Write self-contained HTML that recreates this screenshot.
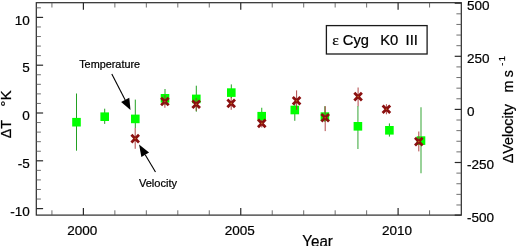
<!DOCTYPE html>
<html><head><meta charset="utf-8"><title>chart</title>
<style>
html,body{margin:0;padding:0;background:#fff;}
svg{display:block;will-change:transform;}
text{font-family:"Liberation Sans",sans-serif;fill:#000;stroke:#000;stroke-width:0.22px;}
</style></head><body>
<svg width="516" height="246" viewBox="0 0 516 246">
<rect x="0" y="0" width="516" height="246" fill="#fff"/>
<g stroke="#2a2a2a" stroke-width="1.2" fill="none">
<rect x="36.3" y="2.7" width="425.0" height="212.4"/>
<path d="M36.3 208.60h6.8"/><path d="M36.3 199.04h4.6" stroke="#555" stroke-width="0.85"/><path d="M36.3 189.48h4.6" stroke="#555" stroke-width="0.85"/><path d="M36.3 179.92h4.6" stroke="#555" stroke-width="0.85"/><path d="M36.3 170.36h4.6" stroke="#555" stroke-width="0.85"/><path d="M36.3 160.80h6.8"/><path d="M36.3 151.24h4.6" stroke="#555" stroke-width="0.85"/><path d="M36.3 141.68h4.6" stroke="#555" stroke-width="0.85"/><path d="M36.3 132.12h4.6" stroke="#555" stroke-width="0.85"/><path d="M36.3 122.56h4.6" stroke="#555" stroke-width="0.85"/><path d="M36.3 113.00h6.8"/><path d="M36.3 103.44h4.6" stroke="#555" stroke-width="0.85"/><path d="M36.3 93.88h4.6" stroke="#555" stroke-width="0.85"/><path d="M36.3 84.32h4.6" stroke="#555" stroke-width="0.85"/><path d="M36.3 74.76h4.6" stroke="#555" stroke-width="0.85"/><path d="M36.3 65.20h6.8"/><path d="M36.3 55.64h4.6" stroke="#555" stroke-width="0.85"/><path d="M36.3 46.08h4.6" stroke="#555" stroke-width="0.85"/><path d="M36.3 36.52h4.6" stroke="#555" stroke-width="0.85"/><path d="M36.3 26.96h4.6" stroke="#555" stroke-width="0.85"/><path d="M36.3 17.40h6.8"/><path d="M36.3 7.84h4.6" stroke="#555" stroke-width="0.85"/><path d="M461.3 215.10h-6.6"/><path d="M461.3 204.98h-4.9" stroke="#555" stroke-width="0.85"/><path d="M461.3 194.36h-4.9" stroke="#555" stroke-width="0.85"/><path d="M461.3 183.74h-4.9" stroke="#555" stroke-width="0.85"/><path d="M461.3 173.12h-4.9" stroke="#555" stroke-width="0.85"/><path d="M461.3 162.50h-6.6"/><path d="M461.3 151.88h-4.9" stroke="#555" stroke-width="0.85"/><path d="M461.3 141.26h-4.9" stroke="#555" stroke-width="0.85"/><path d="M461.3 130.64h-4.9" stroke="#555" stroke-width="0.85"/><path d="M461.3 120.02h-4.9" stroke="#555" stroke-width="0.85"/><path d="M461.3 109.40h-6.6"/><path d="M461.3 98.78h-4.9" stroke="#555" stroke-width="0.85"/><path d="M461.3 88.16h-4.9" stroke="#555" stroke-width="0.85"/><path d="M461.3 77.54h-4.9" stroke="#555" stroke-width="0.85"/><path d="M461.3 66.92h-4.9" stroke="#555" stroke-width="0.85"/><path d="M461.3 56.30h-6.6"/><path d="M461.3 45.68h-4.9" stroke="#555" stroke-width="0.85"/><path d="M461.3 35.06h-4.9" stroke="#555" stroke-width="0.85"/><path d="M461.3 24.44h-4.9" stroke="#555" stroke-width="0.85"/><path d="M461.3 13.82h-4.9" stroke="#555" stroke-width="0.85"/><path d="M461.3 3.20h-6.6"/><path d="M51.93 215.1v-4.8" stroke="#555" stroke-width="0.85"/><path d="M51.93 2.7v4.8" stroke="#555" stroke-width="0.85"/><path d="M83.40 215.1v-7"/><path d="M83.40 2.7v7"/><path d="M114.87 215.1v-4.8" stroke="#555" stroke-width="0.85"/><path d="M114.87 2.7v4.8" stroke="#555" stroke-width="0.85"/><path d="M146.34 215.1v-4.8" stroke="#555" stroke-width="0.85"/><path d="M146.34 2.7v4.8" stroke="#555" stroke-width="0.85"/><path d="M177.81 215.1v-4.8" stroke="#555" stroke-width="0.85"/><path d="M177.81 2.7v4.8" stroke="#555" stroke-width="0.85"/><path d="M209.28 215.1v-4.8" stroke="#555" stroke-width="0.85"/><path d="M209.28 2.7v4.8" stroke="#555" stroke-width="0.85"/><path d="M240.75 215.1v-7"/><path d="M240.75 2.7v7"/><path d="M272.22 215.1v-4.8" stroke="#555" stroke-width="0.85"/><path d="M272.22 2.7v4.8" stroke="#555" stroke-width="0.85"/><path d="M303.69 215.1v-4.8" stroke="#555" stroke-width="0.85"/><path d="M303.69 2.7v4.8" stroke="#555" stroke-width="0.85"/><path d="M335.16 215.1v-4.8" stroke="#555" stroke-width="0.85"/><path d="M335.16 2.7v4.8" stroke="#555" stroke-width="0.85"/><path d="M366.63 215.1v-4.8" stroke="#555" stroke-width="0.85"/><path d="M366.63 2.7v4.8" stroke="#555" stroke-width="0.85"/><path d="M398.10 215.1v-7"/><path d="M398.10 2.7v7"/><path d="M429.57 215.1v-4.8" stroke="#555" stroke-width="0.85"/><path d="M429.57 2.7v4.8" stroke="#555" stroke-width="0.85"/></g>
<text x="29.8" y="24.50" font-size="13.5" text-anchor="end">10</text><text x="29.8" y="72.30" font-size="13.5" text-anchor="end">5</text><text x="29.8" y="120.10" font-size="13.5" text-anchor="end">0</text><text x="29.8" y="167.90" font-size="13.5" text-anchor="end">-5</text><text x="29.8" y="215.70" font-size="13.5" text-anchor="end">-10</text><text x="466.9" y="10.00" font-size="13.5">500</text><text x="466.9" y="63.10" font-size="13.5">250</text><text x="466.9" y="116.20" font-size="13.5">0</text><text x="466.9" y="169.30" font-size="13.5">-250</text><text x="466.9" y="222.40" font-size="13.5">-500</text><text x="82.30" y="235.2" font-size="13.5" text-anchor="middle">2000</text><text x="239.65" y="235.2" font-size="13.5" text-anchor="middle">2005</text><text x="397.00" y="235.2" font-size="13.5" text-anchor="middle">2010</text>
<text x="317.6" y="247.0" font-size="15.8" text-anchor="middle" textLength="30.6" lengthAdjust="spacingAndGlyphs">Year</text>
<text transform="translate(10.9,138.3) rotate(-90)" font-size="14.3">ΔT</text><text transform="translate(11.4,106.7) rotate(-90)" font-size="15.5">°</text><text transform="translate(10.9,100.5) rotate(-90)" font-size="15.2">K</text>
<text transform="translate(512.7,163.3) rotate(-90)" font-size="14.4">ΔVelocity</text><text transform="translate(512.7,92.6) rotate(-90)" font-size="14.2">m</text><text transform="translate(512.7,77.2) rotate(-90)" font-size="14.2">s</text><text transform="translate(505.4,65.8) rotate(-90)" font-size="9.3">-</text><text transform="translate(505.4,61.3) rotate(-90)" font-size="9.3">1</text>
<rect x="326.4" y="25.6" width="100.7" height="28.4" fill="#fff" stroke="#1a1a1a" stroke-width="1.3"/>
<text x="332.3" y="44.5" font-size="15.5" style="font-family:'Liberation Serif',serif">ε</text><text x="342.8" y="44.5" font-size="14.7">Cyg</text><text x="380.2" y="44.5" font-size="14.8">K0</text><text x="405.6" y="44.5" font-size="14.8">III</text>
<text x="79.2" y="67.6" font-size="10.85">Temperature</text>
<text x="138.9" y="186.7" font-size="11.1">Velocity</text>
<path d="M111.80 74.10L125.20 99.89" stroke="#000" stroke-width="1.1" fill="none"/><path d="M130.50 110.10L121.12 102.02L129.28 97.77Z" fill="#000"/>
<path d="M155.50 172.00L145.21 154.81" stroke="#000" stroke-width="1.1" fill="none"/><path d="M139.10 144.60L149.07 152.50L141.35 157.12Z" fill="#000"/>
<g>
<path d="M76.5 93.5V150.7" stroke="#22a022" stroke-width="1.0"/><path d="M104.7 108.7V123.9" stroke="#22a022" stroke-width="1.0"/><path d="M135.3 99.6V128" stroke="#22a022" stroke-width="1.0"/><path d="M165.0 89V105" stroke="#22a022" stroke-width="1.0"/><path d="M196.3 85.7V111.7" stroke="#22a022" stroke-width="1.0"/><path d="M231.3 84.4V98" stroke="#22a022" stroke-width="1.0"/><path d="M261.7 107.8V122" stroke="#44c044" stroke-width="1.2"/><path d="M294.8 104V120.8" stroke="#22a022" stroke-width="1.0"/><path d="M324.9 106.2V122" stroke="#22a022" stroke-width="1.0"/><path d="M357.9 106V148.9" stroke="#6ebf6e" stroke-width="1.4"/><path d="M389.4 123.4V136.6" stroke="#22a022" stroke-width="1.0"/><path d="M421.0 107.2V173.2" stroke="#6ebf6e" stroke-width="1.4"/>
<rect x="72.20" y="117.90" width="8.6" height="8.6" fill="#00ff00"/><rect x="100.40" y="112.40" width="8.6" height="8.6" fill="#00ff00"/><rect x="131.00" y="114.60" width="8.6" height="8.6" fill="#00ff00"/><rect x="160.70" y="94.00" width="8.6" height="8.6" fill="#00ff00"/><rect x="192.00" y="94.60" width="8.6" height="8.6" fill="#00ff00"/><rect x="227.00" y="88.30" width="8.6" height="8.6" fill="#00ff00"/><rect x="257.40" y="111.90" width="8.6" height="8.6" fill="#00ff00"/><rect x="290.50" y="105.70" width="8.6" height="8.6" fill="#00ff00"/><rect x="320.60" y="112.30" width="8.6" height="8.6" fill="#00ff00"/><rect x="353.60" y="122.00" width="8.6" height="8.6" fill="#00ff00"/><rect x="385.10" y="126.00" width="8.6" height="8.6" fill="#00ff00"/><rect x="416.70" y="136.30" width="8.6" height="8.6" fill="#00ff00"/>
<path d="M135.2 128V148.8" stroke="#a83232" stroke-width="0.9"/><path d="M164.9 95V107.8" stroke="#a83232" stroke-width="0.9"/><path d="M196.2 98V110.8" stroke="#a83232" stroke-width="0.9"/><path d="M231.2 97V109.8" stroke="#a83232" stroke-width="0.9"/><path d="M261.8 120V127.5" stroke="#a83232" stroke-width="0.9"/><path d="M296.6 90.4V109.8" stroke="#a83232" stroke-width="0.9"/><path d="M325.2 106.2V131.1" stroke="#a83232" stroke-width="0.9"/><path d="M358.1 87.5V106.2" stroke="#a83232" stroke-width="0.9"/><path d="M386.4 104.2V114.3" stroke="#a83232" stroke-width="0.9"/><path d="M418.8 131.5V151.4" stroke="#a83232" stroke-width="0.9"/>
<path d="M131.40 134.80L139.00 142.40M131.40 142.40L139.00 134.80" stroke="#8b1010" stroke-width="2.8" fill="none"/><circle cx="135.2" cy="138.6" r="0.8" fill="#b8621a"/><path d="M161.10 97.70L168.70 105.30M161.10 105.30L168.70 97.70" stroke="#8b1010" stroke-width="2.8" fill="none"/><circle cx="164.9" cy="101.5" r="0.8" fill="#b8621a"/><path d="M192.40 100.40L200.00 108.00M192.40 108.00L200.00 100.40" stroke="#8b1010" stroke-width="2.8" fill="none"/><circle cx="196.2" cy="104.2" r="0.8" fill="#b8621a"/><path d="M227.40 99.60L235.00 107.20M227.40 107.20L235.00 99.60" stroke="#8b1010" stroke-width="2.8" fill="none"/><circle cx="231.2" cy="103.4" r="0.8" fill="#b8621a"/><path d="M258.00 119.60L265.60 127.20M258.00 127.20L265.60 119.60" stroke="#8b1010" stroke-width="2.8" fill="none"/><circle cx="261.8" cy="123.4" r="0.8" fill="#b8621a"/><path d="M292.80 96.90L300.40 104.50M292.80 104.50L300.40 96.90" stroke="#8b1010" stroke-width="2.8" fill="none"/><circle cx="296.6" cy="100.7" r="0.8" fill="#b8621a"/><path d="M321.40 114.00L329.00 121.60M321.40 121.60L329.00 114.00" stroke="#8b1010" stroke-width="2.8" fill="none"/><circle cx="325.2" cy="117.8" r="0.8" fill="#b8621a"/><path d="M354.30 92.80L361.90 100.40M354.30 100.40L361.90 92.80" stroke="#8b1010" stroke-width="2.8" fill="none"/><circle cx="358.1" cy="96.6" r="0.8" fill="#b8621a"/><path d="M382.60 105.40L390.20 113.00M382.60 113.00L390.20 105.40" stroke="#8b1010" stroke-width="2.8" fill="none"/><circle cx="386.4" cy="109.2" r="0.8" fill="#b8621a"/><path d="M415.00 137.80L422.60 145.40M415.00 145.40L422.60 137.80" stroke="#8b1010" stroke-width="2.8" fill="none"/><circle cx="418.8" cy="141.6" r="0.8" fill="#b8621a"/>
</g>
</svg>
</body></html>
